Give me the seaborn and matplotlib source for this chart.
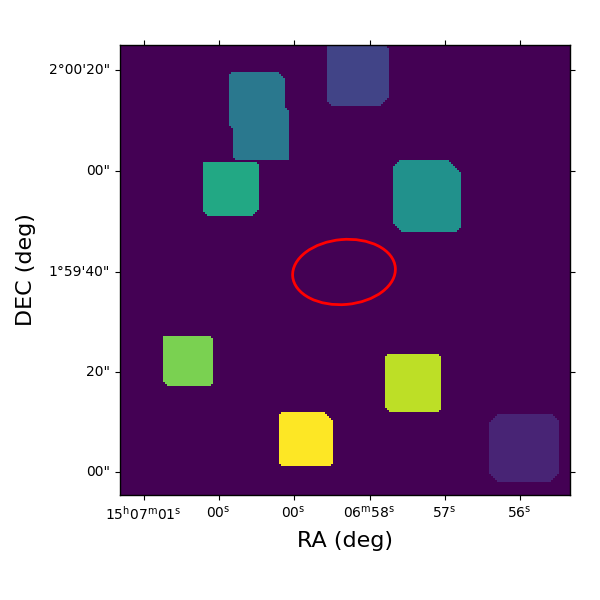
import numpy as np
import seaborn as sns
import matplotlib
matplotlib.use("Agg")
import matplotlib.pyplot as plt
from matplotlib.patches import Ellipse

# segmentation map, blocks in image cells
grid_size = 225
block_label = [4, 4, 2, 6, 5, 8, 10, 9, 1]
block_left = [54, 56, 103, 41, 136, 21, 79, 132, 184]
block_right = [82, 84, 134, 69, 170, 46, 106, 160, 219]
block_top = [14, 32, 0, 59, 58, 146, 184, 155, 185]
block_bottom = [43, 58, 31, 86, 94, 171, 211, 184, 219]
block_cut_tl = [1, 0, 1, 0, 3, 0, 1, 1, 4]
block_cut_tr = [3, 1, 2, 1, 6, 1, 4, 1, 3]
block_cut_br = [0, 0, 4, 3, 2, 1, 1, 1, 4]
block_cut_bl = [2, 1, 2, 2, 4, 2, 1, 2, 4]

xtick_pos = [11.25, 48.75, 86.25, 124.25, 161.75, 199.25]
xtick_labels = [r"$\mathregular{15^{h}07^{m}01^{s}}$", r"$\mathregular{00^{s}}$", r"$\mathregular{00^{s}}$",
                r"$\mathregular{06^{m}58^{s}}$", r"$\mathregular{57^{s}}$", r"$\mathregular{56^{s}}$"]
ytick_pos = [13, 63.5, 114, 164, 214]
ytick_labels = ["2°00'20\"", "00\"", "1°59'40\"", "20\"", "00\""]

# build the label image
seg = np.zeros((grid_size, grid_size))
rows, cols = np.mgrid[0:grid_size, 0:grid_size]
for i in range(len(block_label)):
    l, r, t, b = block_left[i], block_right[i] - 1, block_top[i], block_bottom[i] - 1
    inside = (cols >= l) & (cols <= r) & (rows >= t) & (rows <= b)
    inside &= (cols - l) + (rows - t) >= block_cut_tl[i]
    inside &= (r - cols) + (rows - t) >= block_cut_tr[i]
    inside &= (r - cols) + (b - rows) >= block_cut_br[i]
    inside &= (cols - l) + (b - rows) >= block_cut_bl[i]
    seg[inside] = block_label[i]

fig = plt.figure(figsize=(6, 6), dpi=100)
ax = fig.add_axes([0.2, 0.175, 0.75, 0.75])
ax.set_facecolor(plt.cm.viridis(0))
sns.heatmap(seg, ax=ax, cmap="viridis", vmin=0, vmax=10, cbar=False, square=True)

# half a cell offset to line up with the reference
ax.set_xlim(-0.5, grid_size - 0.5)
ax.set_ylim(grid_size + 0.5, 0.5)

# aperture
ax.add_patch(Ellipse((111.5, 114), 51.5, 32.5, angle=-5, fill=False, edgecolor="red", linewidth=2))

for side in ax.spines.values():
    side.set_visible(True)
    side.set_linewidth(1)
    side.set_color("black")

ax.set_xticks(xtick_pos)
ax.set_xticklabels(xtick_labels, rotation=0, fontsize=10)
ax.set_yticks(ytick_pos)
ax.set_yticklabels(ytick_labels, rotation=0, fontsize=10)
ax.tick_params(top=True, right=True, bottom=True, left=True, direction="out", length=3.5, width=0.8)
ax.set_xlabel("RA (deg)", fontsize=16, labelpad=6)
ax.set_ylabel("DEC (deg)", fontsize=16, labelpad=9)

plt.savefig("out.png", dpi=100)
